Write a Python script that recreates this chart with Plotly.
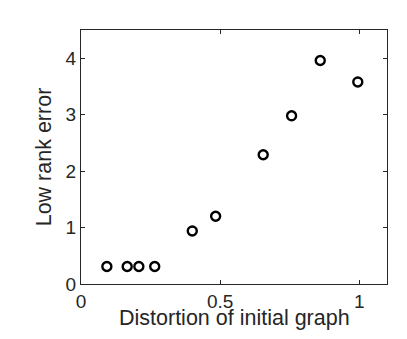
import plotly.graph_objects as go

# distortion of the initial graph vs low rank error
distortion = [0.093, 0.166, 0.208, 0.265, 0.40, 0.484, 0.655, 0.757, 0.86, 0.995]
low_rank_error = [0.31, 0.31, 0.31, 0.31, 0.94, 1.20, 2.29, 2.98, 3.96, 3.58]

x_ticks = [0, 0.5, 1]
x_tick_text = ["0", "0.5", "1"]
y_ticks = [0, 1, 2, 3, 4]

FONT = "Liberation Sans, Arial, sans-serif"
AX_COL = "#262626"

fig = go.Figure(go.Scatter(
    x=distortion,
    y=low_rank_error,
    mode="markers",
    marker=dict(symbol="circle-open", size=9, color="black",
                line=dict(width=2.4, color="black")),
    showlegend=False,
))

axis_common = dict(
    automargin=False,
    showgrid=False,
    zeroline=False,
    showline=True,
    linecolor=AX_COL,
    linewidth=1,
    mirror="ticks",
    ticks="inside",
    ticklen=4,
    tickcolor=AX_COL,
    tickfont=dict(family=FONT, size=19, color=AX_COL),
)

fig.update_xaxes(range=[0, 1.1], tickvals=x_ticks, ticktext=x_tick_text,
                 **axis_common)
fig.update_yaxes(
    range=[0, 4.5], tickvals=y_ticks,
    title=dict(text="Low rank error", standoff=8,
               font=dict(family=FONT, size=21.5, color=AX_COL)),
    **axis_common,
)

# x title as annotation so it can sit tight under the tick labels
fig.add_annotation(
    text="Distortion of initial graph", xref="paper", yref="paper",
    x=0.5, y=0, yshift=-34, xanchor="center", yanchor="middle",
    showarrow=False, font=dict(family=FONT, size=21.5, color=AX_COL),
)

# page body adds 8px margin, so the figure is drawn slightly smaller
fig.update_layout(
    width=399,
    height=331,
    paper_bgcolor="white",
    plot_bgcolor="white",
    margin=dict(l=73, r=20, t=22, b=55),
)

fig.write_html("out.html")
